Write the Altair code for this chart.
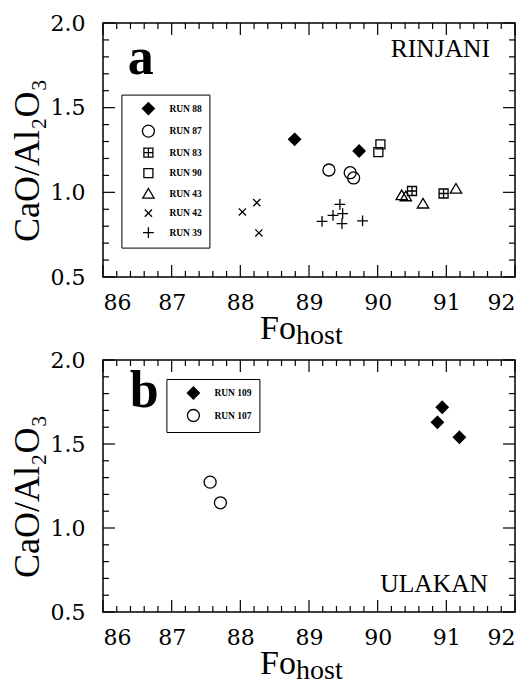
import altair as alt
import numpy as np
import pandas as pd

# ---------------- Panel a : RINJANI ----------------
runs_a = ["RUN 88", "RUN 87", "RUN 83", "RUN 90", "RUN 43", "RUN 42", "RUN 39"]
run88_fo = [88.79, 89.73]
run88_r = [1.313, 1.244]
run87_fo = [89.29, 89.60, 89.65]
run87_r = [1.132, 1.116, 1.085]
run83_fo = [90.50, 90.96]
run83_r = [1.008, 0.993]
run90_fo = [90.04, 90.01]
run90_r = [1.283, 1.238]
run43_fo = [90.35, 90.41, 90.66, 91.14]
run43_r = [0.983, 0.977, 0.934, 1.022]
run42_fo = [88.03, 88.24, 88.27]
run42_r = [0.884, 0.939, 0.760]
run39_fo = [89.19, 89.45, 89.35, 89.49, 89.48, 89.78]
run39_r = [0.829, 0.929, 0.864, 0.874, 0.815, 0.831]

# ---------------- Panel b : ULAKAN ----------------
runs_b = ["RUN 109", "RUN 107"]
run109_fo = [90.94, 90.87, 91.19]
run109_r = [1.719, 1.629, 1.540]
run107_fo = [87.56, 87.71]
run107_r = [1.273, 1.150]

x_major = [86, 87, 88, 89, 90, 91, 92]
y_major = [0.5, 1.0, 1.5, 2.0]

# symbol shapes
DIAMOND = "M0,-1L1,0L0,1L-1,0Z"
CIRCLE = "circle"
SQPLUS = "M-0.75,-0.75H0.75V0.75H-0.75Z M0,-0.75V0.75 M-0.75,0H0.75"
SQUARE = "M-0.75,-0.75H0.75V0.75H-0.75Z"
TRI = "M0,-0.85L0.95,0.75L-0.95,0.75Z"
XMARK = "M-0.6,-0.6L0.6,0.6M-0.6,0.6L0.6,-0.6"
PLUS = "M-0.9,0H0.9M0,-0.9V0.9"

shapes_a = [DIAMOND, CIRCLE, SQPLUS, SQUARE, TRI, XMARK, PLUS]
fills_a = ["black", "transparent", "transparent", "transparent", "transparent", "transparent", "transparent"]
shapes_b = [DIAMOND, CIRCLE]
fills_b = ["black", "transparent"]


def make_df(pairs):
    rows = []
    for name, fo, r in pairs:
        for a, b in zip(fo, r):
            rows.append({"fo": a, "ratio": b, "run": name})
    return pd.DataFrame(rows)


df_a = make_df([
    ("RUN 88", run88_fo, run88_r), ("RUN 87", run87_fo, run87_r),
    ("RUN 83", run83_fo, run83_r), ("RUN 90", run90_fo, run90_r),
    ("RUN 43", run43_fo, run43_r), ("RUN 42", run42_fo, run42_r),
    ("RUN 39", run39_fo, run39_r),
])
df_b = make_df([("RUN 109", run109_fo, run109_r), ("RUN 107", run107_fo, run107_r)])

x_minor = [round(86 + 0.2 * i, 1) for i in range(31) if i % 5 != 0]
y_minor = [round(0.5 + 0.1 * i, 1) for i in range(16) if i % 5 != 0]

W = 412
SERIF = "Liberation Serif"
LABEL_FONT = "DejaVu Serif"
MAJ, MIN = 12, 6

XS = alt.Scale(domain=[86, 92], nice=False, zero=False)
YS = alt.Scale(domain=[0.5, 2.0], nice=False, zero=False)


def axes(H):
    xa = alt.Axis(values=x_major, format="d", title=None,
                  domain=False, ticks=False, tickSize=0, grid=False,
                  labelPadding=15, labelFlush=True, labelOverlap=False)
    ya = alt.Axis(values=y_major, format=".1f", title="CaO/Al₂O₃",
                  domain=False, ticks=False, tickSize=0, grid=False,
                  labelPadding=18, labelFlush=False, labelOverlap=False,
                  titleFont=SERIF, titleFontSize=36,
                  titleFontWeight="normal", titleAngle=270,
                  titleX=-65, titleY=H / 2 + 10, titleAlign="center",
                  titleBaseline="alphabetic", titleColor="black")
    return xa, ya


def tick_layers(H, xa, ya):
    layers = []
    for vals, ln in ((x_major, MAJ), (x_minor, MIN)):
        d = pd.DataFrame({"fo": vals})
        base = alt.Chart(d).mark_rule(color="black", strokeWidth=1.2)
        layers.append(base.encode(x=alt.X("fo:Q", scale=XS, axis=xa),
                                  y=alt.value(H), y2=alt.value(H - ln)))
        layers.append(base.encode(x=alt.X("fo:Q", scale=XS, axis=xa),
                                  y=alt.value(0), y2=alt.value(ln)))
    for vals, ln in ((y_major, MAJ), (y_minor, MIN)):
        d = pd.DataFrame({"ratio": vals})
        base = alt.Chart(d).mark_rule(color="black", strokeWidth=1.2)
        layers.append(base.encode(y=alt.Y("ratio:Q", scale=YS, axis=ya),
                                  x=alt.value(0), x2=alt.value(ln)))
        layers.append(base.encode(y=alt.Y("ratio:Q", scale=YS, axis=ya),
                                  x=alt.value(W), x2=alt.value(W - ln)))
    return layers


def text_layer(txt, x, y, size, weight="normal", align="left", font=SERIF):
    return alt.Chart(pd.DataFrame({"t": [txt]})).mark_text(
        font=font, fontSize=size, fontWeight=weight, align=align,
        baseline="alphabetic", color="black"
    ).encode(text="t:N", x=alt.value(x), y=alt.value(y))


def panel(df, runs, shapes, fills, lx, ly, letter, lpos, name, npos, H):
    xa, ya = axes(H)
    legend = alt.Legend(
        orient="none", legendX=lx, legendY=ly, title=None,
        strokeColor="black", fillColor="white", padding=7,
        symbolOffset=13, labelOffset=14, rowPadding=4.5,
        symbolSize=144, symbolStrokeColor="black", symbolStrokeWidth=1.3,
        labelFont=SERIF, labelFontSize=9.5, labelFontWeight="bold",
        labelColor="black",
    )
    pts = alt.Chart(df).mark_point(
        filled=True, stroke="black", strokeWidth=1.3, size=144, opacity=1
    ).encode(
        x=alt.X("fo:Q", scale=XS, axis=xa),
        y=alt.Y("ratio:Q", scale=YS, axis=ya),
        shape=alt.Shape("run:N", scale=alt.Scale(domain=runs, range=shapes), legend=legend),
        fill=alt.Fill("run:N", scale=alt.Scale(domain=runs, range=fills), legend=legend),
        stroke=alt.Stroke("run:N", scale=alt.Scale(domain=runs, range=["black"] * len(runs)),
                          legend=legend),
    )
    layers = [pts] + tick_layers(H, xa, ya) + [
        text_layer(letter, lpos[0], lpos[1], 52, weight="bold"),
        text_layer(name, npos[0], npos[1], 25.5, align="right"),
        text_layer("Fo", 157, H + 62, 34),
        text_layer("host", 193, H + 67, 28),
    ]
    return alt.layer(*layers).properties(width=W, height=H)


pa = panel(df_a, runs_a, shapes_a, fills_a, 18.4, 71.6, "a", (24.7, 51.3),
           "RINJANI", (387, 34), 254)
pb = panel(df_b, runs_b, shapes_b, fills_b, 63.4, 19.0, "b", (26.7, 47.4),
           "ULAKAN", (385, 232.4), 252)

chart = alt.vconcat(pa, pb, spacing=83, bounds="flush").resolve_scale(
    shape="independent", fill="independent", stroke="independent"
).resolve_legend(shape="independent", fill="independent", stroke="independent").properties(
    padding={"left": 0, "top": 3, "right": 0, "bottom": 0}
).configure_view(stroke="black", strokeWidth=1.5).configure_axis(
    labelFont=LABEL_FONT, labelFontSize=22, labelColor="black"
)

chart.save("out.html", embed_options={"renderer": "svg", "actions": False})
